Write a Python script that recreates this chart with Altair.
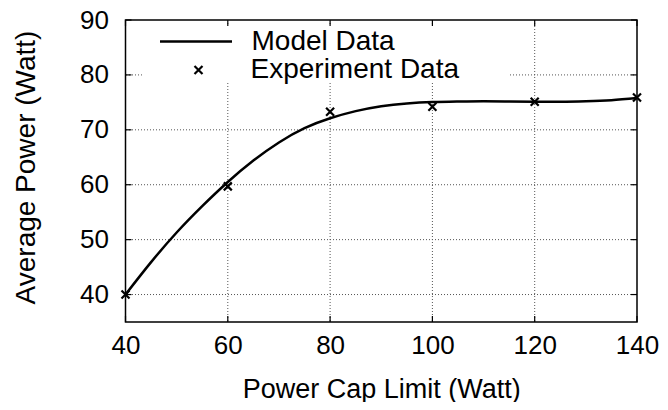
import altair as alt
import pandas as pd

# ---- data ----
power_cap = [40, 60, 80, 100, 120, 140]
avg_power = [40.0, 59.7, 73.3, 74.2, 75.1, 75.9]

model_x = [40, 45, 50, 55, 60, 65, 70, 75, 80, 85, 90, 95, 100, 105, 110, 115, 120, 125, 130, 135, 140]
model_y = [40.0, 45.9, 51.3, 56.1, 60.5, 64.4, 67.7, 70.3, 72.1, 73.4, 74.3, 74.8, 75.05, 75.15, 75.2, 75.15, 75.1, 75.1, 75.2, 75.4, 75.8]

x_ticks = [40, 60, 80, 100, 120, 140]
y_ticks = [40, 50, 60, 70, 80, 90]
x_grid = [60, 80, 100, 120]
y_grid = [40, 50, 60, 70, 80]

W, H = 511.5, 302
FONT = "Liberation Sans"
FS = 26
FS_T = 27
FS_L = 28
X_PATH = "M-1,-1L1,1M-1,1L1,-1"

df_model = pd.DataFrame({"x": model_x, "y": model_y, "series": "Model Data"})
df_exp = pd.DataFrame({"x": power_cap, "y": avg_power, "series": "Experiment Data"})
df_xg = pd.DataFrame({"x": x_grid})
df_yg = pd.DataFrame({"y": y_grid})
df_xt = pd.DataFrame({"x": x_ticks})
df_yt = pd.DataFrame({"y": y_ticks})
df_one = pd.DataFrame({"k": [0]})

xscale = alt.Scale(domain=[40, 140], nice=False, zero=False)
yscale = alt.Scale(domain=[35, 90], nice=False, zero=False)

x_axis = alt.Axis(values=x_ticks, title="Power Cap Limit (Watt)", grid=False, ticks=False,
                  domain=False, labelPadding=10, labelFlush=False, labelOverlap=False,
                  titleY=54, titleFont=FONT,
                  titleFontSize=FS_T, titleFontWeight="normal", labelFont=FONT,
                  labelFontSize=FS, labelColor="black", titleColor="black")
y_axis = alt.Axis(values=y_ticks, title="Average Power (Watt)", grid=False, ticks=False,
                  domain=False, labelPadding=17, labelFlush=False, labelOverlap=False,
                  titleX=-85, titleY=147,
                  titleAlign="center", titleBaseline="bottom", titleFont=FONT,
                  titleFontSize=FS_L, titleFontWeight="normal", labelFont=FONT,
                  labelFontSize=FS, labelColor="black", titleColor="black")

grid_style = dict(color="#555555", strokeWidth=1, strokeDash=[1, 2])

xgrid = alt.Chart(df_xg).mark_rule(**grid_style).encode(x=alt.X("x:Q", scale=xscale, axis=x_axis))
ygrid = alt.Chart(df_yg).mark_rule(**grid_style).encode(y=alt.Y("y:Q", scale=yscale, axis=y_axis))

key_bg = alt.Chart(df_one).mark_rect(color="white").encode(
    x=alt.value(16.5), x2=alt.value(382.5), y=alt.value(6), y2=alt.value(63))

tick_style = dict(color="black", strokeWidth=1.2)
t_left = alt.Chart(df_yt).mark_rule(**tick_style).encode(
    y=alt.Y("y:Q", scale=yscale), x=alt.value(0), x2=alt.value(6))
t_right = alt.Chart(df_yt).mark_rule(**tick_style).encode(
    y=alt.Y("y:Q", scale=yscale), x=alt.value(W - 6), x2=alt.value(W))
t_bottom = alt.Chart(df_xt).mark_rule(**tick_style).encode(
    x=alt.X("x:Q", scale=xscale), y=alt.value(H - 6), y2=alt.value(H))
t_top = alt.Chart(df_xt).mark_rule(**tick_style).encode(
    x=alt.X("x:Q", scale=xscale), y=alt.value(0), y2=alt.value(6))

line = alt.Chart(df_model).mark_line(interpolate="natural", strokeWidth=2.5).encode(
    x=alt.X("x:Q", scale=xscale, axis=x_axis),
    y=alt.Y("y:Q", scale=yscale, axis=y_axis),
    color=alt.Color("series:N", scale=alt.Scale(range=["black"]),
                    legend=alt.Legend(title=None, orient="none", legendX=33, legendY=-16,
                                      symbolType="stroke", symbolSize=5184,
                                      symbolStrokeWidth=2.5, symbolStrokeColor="black",
                                      labelFont=FONT, labelFontSize=FS_L, labelColor="black",
                                      labelOffset=18, labelLimit=400, padding=0)),
)

pts = alt.Chart(df_exp).mark_point(filled=False, strokeWidth=2.2, size=64, color="black",
                                   opacity=1).encode(
    x=alt.X("x:Q", scale=xscale, axis=x_axis),
    y=alt.Y("y:Q", scale=yscale, axis=y_axis),
    shape=alt.Shape("series:N", scale=alt.Scale(range=[X_PATH]),
                    legend=alt.Legend(title=None, orient="none", legendX=59, legendY=36,
                                      symbolSize=64, symbolStrokeWidth=2.2,
                                      symbolStrokeColor="black", symbolOpacity=1,
                                      labelFont=FONT, labelFontSize=FS_L, labelColor="black",
                                      labelOffset=38, labelLimit=400, padding=0)),
)

chart = alt.layer(xgrid, ygrid, key_bg, t_left, t_right, t_bottom, t_top, line, pts).properties(
    width=W, height=H,
    autosize=alt.AutoSizeParams(type="none"),
    padding={"left": 117.5, "top": 12, "right": 23, "bottom": 80},
    background="white",
).configure_view(stroke="black", strokeWidth=1.5)

chart.save("out.html", embed_options={"renderer": "svg", "actions": False})
